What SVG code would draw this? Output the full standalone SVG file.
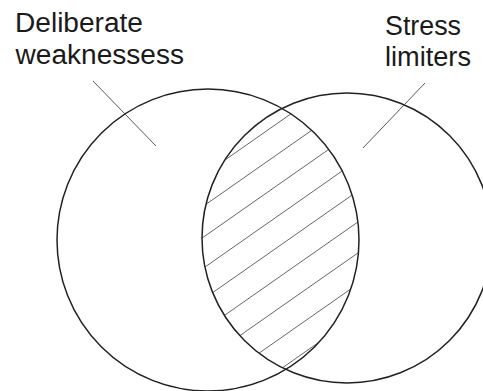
<svg xmlns="http://www.w3.org/2000/svg" width="483" height="391" viewBox="0 0 483 391">
<style>
  .lbl { font-family: "Liberation Sans", Arial, sans-serif; font-size: 27px; fill: #1a1a1a; }
  .circ { fill: none; stroke: #222; stroke-width: 1.5; }
  .lead { stroke: #444; stroke-width: 0.9; fill: none; }
  .hatch { stroke: #555; stroke-width: 0.9; fill: none; }
</style>
<defs>
  <clipPath id="clipL"><circle cx="208" cy="240" r="151"/></clipPath>
  <clipPath id="clipR"><circle cx="347" cy="238" r="145"/></clipPath>
</defs>
<rect width="483" height="391" fill="#fff"/>
<g id="intersection-hatch" clip-path="url(#clipL)">
  <g clip-path="url(#clipR)">
    <line class="hatch" x1="180" y1="191.5" x2="400" y2="37.5"/>
    <line class="hatch" x1="180" y1="222.5" x2="400" y2="68.5"/>
    <line class="hatch" x1="180" y1="253.5" x2="400" y2="99.5"/>
    <line class="hatch" x1="180" y1="284.5" x2="400" y2="130.5"/>
    <line class="hatch" x1="180" y1="315.5" x2="400" y2="161.5"/>
    <line class="hatch" x1="180" y1="346.5" x2="400" y2="192.5"/>
    <line class="hatch" x1="180" y1="377.5" x2="400" y2="223.5"/>
    <line class="hatch" x1="180" y1="408.5" x2="400" y2="254.5"/>
    <line class="hatch" x1="180" y1="439.5" x2="400" y2="285.5"/>
  </g>
</g>
<g id="deliberate-weaknesses">
  <circle class="circ" cx="208" cy="240" r="151"/>
  <text class="lbl" x="15" y="32.3" textLength="128" lengthAdjust="spacingAndGlyphs">Deliberate</text>
  <text class="lbl" x="15.5" y="64" textLength="168.5" lengthAdjust="spacingAndGlyphs">weaknessess</text>
</g>
<g id="stress-limiters">
  <circle class="circ" cx="347" cy="238" r="145"/>
  <text class="lbl" x="385" y="35" textLength="76" lengthAdjust="spacingAndGlyphs">Stress</text>
  <text class="lbl" x="385" y="65.5" textLength="86" lengthAdjust="spacingAndGlyphs">limiters</text>
</g>
<g id="connectors">
  <line class="lead" x1="93" y1="81" x2="156" y2="146"/>
  <line class="lead" x1="425" y1="83" x2="363" y2="148"/>
</g>
</svg>
